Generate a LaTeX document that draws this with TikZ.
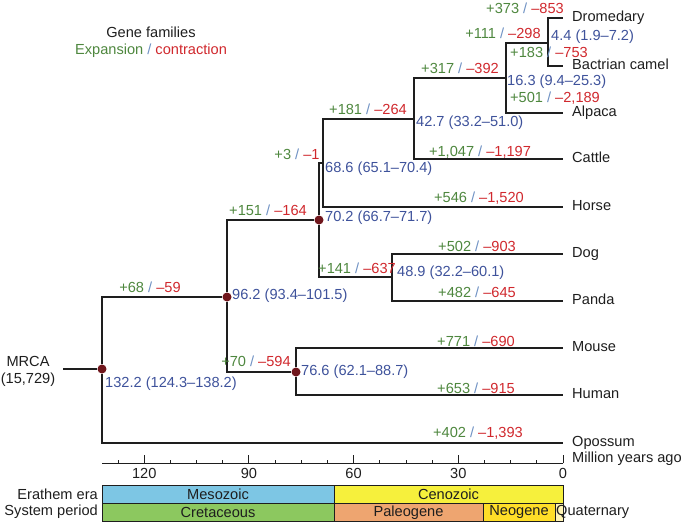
\documentclass[tikz,border=0pt]{standalone}
\usepackage{fontspec}
\setmainfont{Liberation Sans}
\usepackage{tikz}
\usetikzlibrary{positioning}
\definecolor{gaincol}{RGB}{78,135,62}
\definecolor{losscol}{RGB}{208,40,45}
\definecolor{agecol}{RGB}{62,82,155}
\definecolor{slashcol}{RGB}{110,145,195}
\definecolor{dotcol}{RGB}{112,22,28}
\definecolor{linecol}{RGB}{30,30,30}
\definecolor{mesocol}{RGB}{125,198,228}
\definecolor{cenocol}{RGB}{246,240,60}
\definecolor{cretcol}{RGB}{140,200,95}
\definecolor{paleocol}{RGB}{238,165,112}
\definecolor{neocol}{RGB}{255,222,40}
\definecolor{quatcol}{RGB}{255,244,180}
\tikzstyle{branch} = [draw=linecol, line width=1.25pt]
\tikzstyle{dot} = [circle, fill=dotcol, inner sep=0pt, minimum size=9pt]
\tikzstyle{tip} = [anchor=west, inner xsep=9pt, inner ysep=0pt, text height=10.5pt, text depth=3pt]
\tikzstyle{age} = [anchor=west, inner sep=0pt, text=agecol]
\tikzstyle{gl} = [inner sep=0pt]
\tikzstyle{era} = [draw=linecol, line width=0.6pt]
\tikzstyle{tick} = [draw=linecol, line width=0.9pt]
\newcommand{\gainloss}[2]{\textcolor{gaincol}{#1} \textcolor{slashcol}{/} \textcolor{losscol}{#2}}

\begin{document}
\begin{tikzpicture}[x=1pt, y=-1pt, font=\fontsize{14.6}{17}\selectfont, text=linecol]
\useasboundingbox (0,0) rectangle (685,522);
\node (legend1) at (151,32) {Gene families};
\node (legend2) at (151,51) {\textcolor{gaincol}{Expansion} \textcolor{slashcol}{/} \textcolor{losscol}{contraction}};
% internal nodes (x = 563 - 3.49 * Ma)
\node (root) [dot] at (102,369) {};
\node (n962) [dot] at (227,297) {};
\node (n702) [dot] at (319,220) {};
\node (n766) [dot] at (296,372) {};
\coordinate (n686) at (323,163);
\coordinate (n427) at (414,119);
\coordinate (n163) at (506,78);
\coordinate (n44) at (548,43);
\coordinate (n489) at (392,277);
% tips
\node (dromedary) [tip] at (563,18) {Dromedary};
\node (bactrian) [tip] at (563,66) {Bactrian camel};
\node (alpaca) [tip] at (563,113) {Alpaca};
\node (cattle) [tip] at (563,159) {Cattle};
\node (horse) [tip] at (563,207) {Horse};
\node (dog) [tip] at (563,254) {Dog};
\node (panda) [tip] at (563,301) {Panda};
\node (mouse) [tip] at (563,348) {Mouse};
\node (human) [tip] at (563,395) {Human};
\node (opossum) [tip] at (563,443) {Opossum};
\node (mrca) [align=center, inner xsep=8pt] at (28,371) {MRCA\\(15,729)};
% branches
\draw [branch] (root) -- (root -| mrca.east);
\draw [branch] (root) |- (n962);
\draw [branch] (root) |- (opossum.west);
\draw [branch] (n962) |- (n702);
\draw [branch] (n962) |- (n766);
\draw [branch] (n766) |- (mouse.west);
\draw [branch] (n766) |- (human.west);
\draw [branch] (n702) |- (n686);
\draw [branch] (n702) |- (n489);
\draw [branch] (n489) |- (dog.west);
\draw [branch] (n489) |- (panda.west);
\draw [branch] (n686) |- (n427);
\draw [branch] (n686) |- (horse.west);
\draw [branch] (n427) |- (n163);
\draw [branch] (n427) |- (cattle.west);
\draw [branch] (n163) |- (n44);
\draw [branch] (n163) |- (alpaca.west);
\draw [branch] (n44) |- (dromedary.west);
\draw [branch] (n44) |- (bactrian.west);
% divergence times
\node (a44) [age] at (551,37) {4.4 (1.9–7.2)};
\node (a163) [age] at (507,82) {16.3 (9.4–25.3)};
\node (a427) [age] at (416,123) {42.7 (33.2–51.0)};
\node (a686) [age] at (325,169) {68.6 (65.1–70.4)};
\node (a702) [age] at (325,218) {70.2 (66.7–71.7)};
\node (a962) [age] at (232,296) {96.2 (93.4–101.5)};
\node (a489) [age] at (397,273) {48.9 (32.2–60.1)};
\node (a766) [age] at (301,372) {76.6 (62.1–88.7)};
\node (a1322) [age] at (105,384) {132.2 (124.3–138.2)};
% gains and losses
\node (gDromedary) [gl] at (525,8) {\gainloss{+373}{–853}};
\node (g44) [gl] at (503,33) {\gainloss{+111}{–298}};
\node (gBactrian) [gl] at (549,52) {\gainloss{+183}{–753}};
\node (gAlpaca) [gl] at (555,98) {\gainloss{+501}{–2,189}};
\node (g163) [gl] at (460,68) {\gainloss{+317}{–392}};
\node (g427) [gl] at (368,109) {\gainloss{+181}{–264}};
\node (gCattle) [gl] at (480,152) {\gainloss{+1,047}{–1,197}};
\node (g686) [gl] at (297,154) {\gainloss{+3}{–1}};
\node (gHorse) [gl] at (479,198) {\gainloss{+546}{–1,520}};
\node (g702) [gl] at (268,210) {\gainloss{+151}{–164}};
\node (gDog) [gl] at (477,246) {\gainloss{+502}{–903}};
\node (gPanda) [gl] at (477,292) {\gainloss{+482}{–645}};
\node (g489) [gl] at (357,268) {\gainloss{+141}{–637}};
\node (g962) [gl] at (150,287) {\gainloss{+68}{–59}};
\node (g766) [gl] at (256,361) {\gainloss{+70}{–594}};
\node (gMouse) [gl] at (476,341) {\gainloss{+771}{–690}};
\node (gHuman) [gl] at (476,388) {\gainloss{+653}{–915}};
\node (gOpossum) [gl] at (478,433) {\gainloss{+402}{–1,393}};
% time axis
\draw [tick] (102,463) -- (563,463);
\foreach \t in {0,7.5,...,127.5}
  \draw [tick] ({563-3.49*\t},463) -- ++(0,-3);
\foreach \t in {0,30,...,120}
  \draw [tick] ({563-3.49*\t},463) -- ++(0,-8) node (lab\t) [at start, below, inner sep=0pt, yshift=-5pt] {\t};
\node (mya) [anchor=west, inner sep=0pt] at (572,459) {Million years ago};
% eras and periods
\draw [era, fill=mesocol] (102,485) rectangle (334,503) node (meso) [midway] {Mesozoic};
\draw [era, fill=cenocol] (334,485) rectangle (563,503) node (ceno) [midway] {Cenozoic};
\draw [era, fill=cretcol] (102,503) rectangle (334,521.5) node (cret) [midway] {Cretaceous};
\draw [era, fill=paleocol] (334,503) rectangle (483,521.5) node (paleo) [midway] {Paleogene};
\draw [era, fill=neocol] (483,503) rectangle (555,521.5) node (neo) [midway] {Neogene};
\draw [era, fill=quatcol] (555,503) rectangle (563,521.5);
\node (quat) [anchor=west, inner sep=0pt] at (556,512) {Quaternary};
\node (erathem) [anchor=east, inner sep=0pt] at (98,494) {Erathem era};
\node (system) [anchor=east, inner sep=0pt] at (98,512) {System period};
\end{tikzpicture}
\end{document}
